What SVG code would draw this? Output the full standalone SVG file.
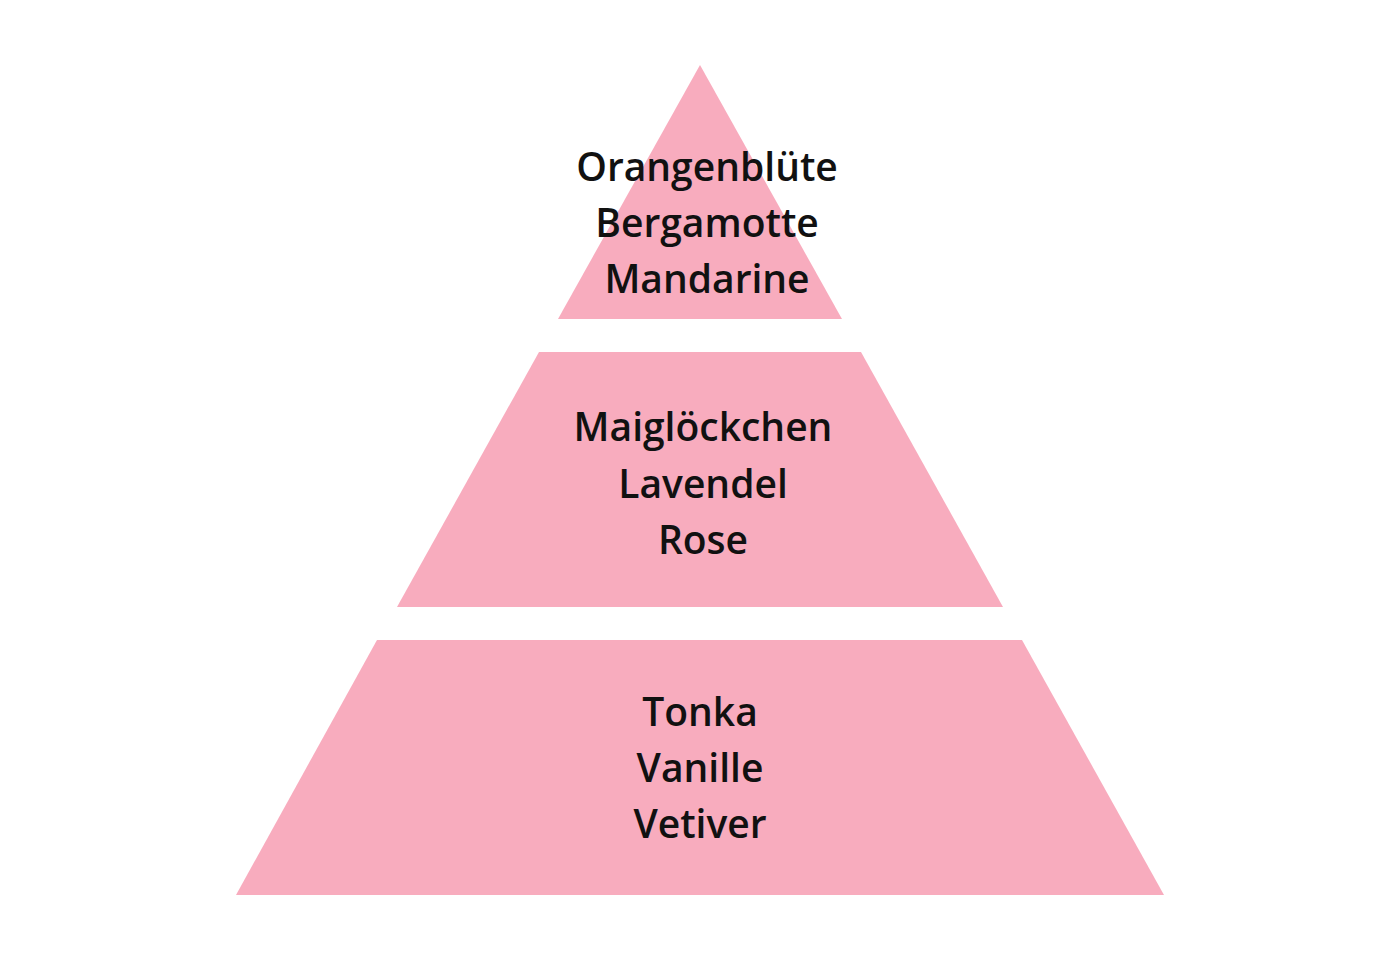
<svg xmlns="http://www.w3.org/2000/svg" width="1400" height="960" viewBox="0 0 1400 960">
<style>
.tier{fill:#F8ACBE;}
.lbl{font-family:"Open Sans","Noto Sans","Liberation Sans",sans-serif;font-weight:600;font-size:39px;fill:#111;text-anchor:middle;}
</style>
<rect width="1400" height="960" fill="#fff"/>
<g id="top">
<polygon class="tier" points="700,65 842,319 558,319"/>
<text class="lbl" x="707" y="181">Orangenblüte</text>
<text class="lbl" x="707" y="237">Bergamotte</text>
<text class="lbl" x="707" y="293">Mandarine</text>
</g>
<g id="middle">
<polygon class="tier" points="539,352 861,352 1003,607 397,607"/>
<text class="lbl" x="703" y="441">Maiglöckchen</text>
<text class="lbl" x="703" y="498">Lavendel</text>
<text class="lbl" x="703" y="554">Rose</text>
</g>
<g id="bottom">
<polygon class="tier" points="377,640 1022,640 1164,895 236,895"/>
<text class="lbl" x="700" y="726">Tonka</text>
<text class="lbl" x="700" y="782">Vanille</text>
<text class="lbl" x="700" y="838">Vetiver</text>
</g>
<g id="connectors"/>
</svg>
